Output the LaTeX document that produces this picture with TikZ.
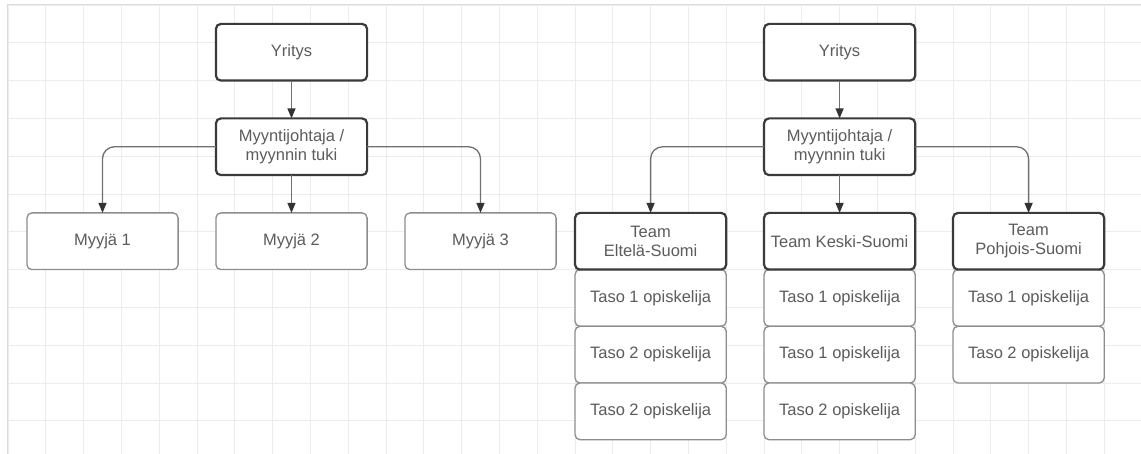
\documentclass[tikz,border=0pt]{standalone}
\usepackage{fontspec}
\setmainfont{Liberation Sans}
\usetikzlibrary{
  positioning,
  arrows.meta
}
\definecolor{gridcolor}{RGB}{236,236,236}
\definecolor{edgecolor}{RGB}{220,220,220}
\definecolor{textcolor}{RGB}{92,92,92}
\definecolor{headcolor}{RGB}{58,58,58}
\definecolor{membercolor}{RGB}{140,140,140}
\definecolor{linecol}{RGB}{112,112,112}
\definecolor{tipcolor}{RGB}{51,51,51}
\tikzset{
  box/.style={
    rectangle,
    rounded corners=5pt,
    fill=white,
    text=textcolor,
    minimum width=151.2pt,
    minimum height=56.7pt,
    inner sep=2pt,
    outer sep=0pt,
    align=center,
    font=\fontsize{16.5}{19.5}\selectfont
  },
  headbox/.style={
    box,
    draw=headcolor,
    line width=2.2pt
  },
  memberbox/.style={
    box,
    draw=membercolor,
    line width=1.3pt
  },
  arrow/.style={
    -{Triangle[length=10pt,width=8pt,color=tipcolor]},
    line width=1.3pt,
    color=linecol,
    rounded corners=12pt
  },
  gridline/.style={
    color=gridcolor,
    line width=0.8pt
  },
  edgeline/.style={
    color=edgecolor,
    line width=1pt
  }
}

\begin{document}
\begin{tikzpicture}

  \useasboundingbox (-8pt,5pt) rectangle (1133pt,-449pt);

  % Canvas grid
  \draw[gridline, step=37.8pt] (0,-449pt) grid (1133pt,0);
  \draw[edgeline] (0,-449pt) -- (0,0) -- (1133pt,0);

  % Left chart
  \node[headbox] (yritys1) at (283.5pt,-47.25pt) {Yritys};
  \node[headbox, below=37.8pt of yritys1] (myynti1) {Myyntijohtaja /\\myynnin tuki};

  \node[memberbox, below=37.8pt of myynti1] (myyja2) {Myyjä 2};
  \node[memberbox, left=37.8pt of myyja2] (myyja1) {Myyjä 1};
  \node[memberbox, right=37.8pt of myyja2] (myyja3) {Myyjä 3};

  % Right chart
  \node[headbox] (yritys2) at (831.6pt,-47.25pt) {Yritys};
  \node[headbox, below=37.8pt of yritys2] (myynti2) {Myyntijohtaja /\\myynnin tuki};

  % Team members (before the team headers, so the headers sit on top)
  \node[memberbox, below=94.5pt of myynti2] (keski1) {Taso 1 opiskelija};
  \node[memberbox, below=0pt of keski1] (keski2) {Taso 1 opiskelija};
  \node[memberbox, below=0pt of keski2] (keski3) {Taso 2 opiskelija};

  \node[memberbox, left=37.8pt of keski1] (etela1) {Taso 1 opiskelija};
  \node[memberbox, below=0pt of etela1] (etela2) {Taso 2 opiskelija};
  \node[memberbox, below=0pt of etela2] (etela3) {Taso 2 opiskelija};

  \node[memberbox, right=37.8pt of keski1] (pohjois1) {Taso 1 opiskelija};
  \node[memberbox, below=0pt of pohjois1] (pohjois2) {Taso 2 opiskelija};

  % Team headers
  \node[headbox, above=0pt of etela1] (etela) {Team\\Eltelä-Suomi};
  \node[headbox, above=0pt of keski1] (keski) {Team Keski-Suomi};
  \node[headbox, above=0pt of pohjois1] (pohjois) {Team\\Pohjois-Suomi};

  % Arrows, left chart
  \draw[arrow] (yritys1) -- (myynti1);
  \draw[arrow] (myynti1) -- (myyja2);
  \draw[arrow] (myynti1.west) -| (myyja1);
  \draw[arrow] (myynti1.east) -| (myyja3);

  % Arrows, right chart
  \draw[arrow] (yritys2) -- (myynti2);
  \draw[arrow] (myynti2) -- (keski);
  \draw[arrow] (myynti2.west) -| (etela);
  \draw[arrow] (myynti2.east) -| (pohjois);

\end{tikzpicture}
\end{document}
